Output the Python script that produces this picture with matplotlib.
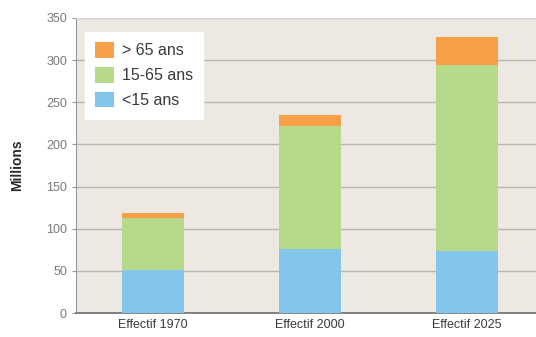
import matplotlib
matplotlib.use("Agg")
import matplotlib.pyplot as plt
import numpy as np

categories = ["Effectif 1970", "Effectif 2000", "Effectif 2025"]
moins_15 = [51, 76, 73]
de_15_65 = [62, 146, 221]
plus_65 = [6, 13, 33]

series_labels = ["<15 ans", "15-65 ans", "> 65 ans"]
colors = ["#82c6ec", "#b6d98a", "#f7a047"]

plt.rcParams["font.family"] = ["Liberation Sans", "DejaVu Sans"]

fig = plt.figure(figsize=(5.36, 3.37), dpi=100)
ax = fig.add_axes([76 / 536, 24 / 337, 460 / 536, 295 / 337])
ax.set_facecolor("#ede8e1")

x = np.arange(len(categories))
w = 0.395
bottom = np.zeros(len(categories))
bars = []
for vals, lab, col in zip([moins_15, de_15_65, plus_65], series_labels, colors):
    b = ax.bar(x, vals, w, bottom=bottom, color=col, label=lab, zorder=3)
    bars.append(b)
    bottom += np.array(vals)

ax.set_xlim(-0.49, 2.44)
ax.set_ylim(0, 350)
ax.set_yticks(range(0, 351, 50))
ax.yaxis.grid(True, color="#b9b5b0", linewidth=1.0, zorder=1)
ax.set_axisbelow(True)

ax.spines["right"].set_visible(False)
ax.spines["top"].set_color("#d8d4cf")
ax.spines["left"].set_color("#9a9894")
ax.spines["bottom"].set_color("#6f6e6c")
ax.spines["bottom"].set_linewidth(1.2)

ax.set_xticks(x)
ax.set_xticklabels(categories, fontsize=9, color="#3a3a3a")
ax.tick_params(axis="x", length=0, pad=4)
ax.tick_params(axis="y", labelsize=9, labelcolor="#7a7a7a", color="#9a9894", length=3)

ax.set_ylabel("Millions", fontsize=10, fontweight="bold", color="#2a2a2a", labelpad=16)

handles = [bars[2], bars[1], bars[0]]
leg = ax.legend(handles, [series_labels[2], series_labels[1], series_labels[0]],
                loc="upper left", bbox_to_anchor=(1 / 460, 1 - 6 / 295), fontsize=11.5,
                frameon=True, fancybox=False, framealpha=1, edgecolor="white",
                handlelength=1.15, handleheight=1.1, handletextpad=0.5,
                labelspacing=0.55, borderpad=0.65, labelcolor="#3a3a3a")

# bottom of a clipped heading above the chart
fig.text(187 / 536, 1.025, "y", color="#1a6fd0", fontsize=11, ha="center", va="center")

fig.savefig("out.png", dpi=100)
